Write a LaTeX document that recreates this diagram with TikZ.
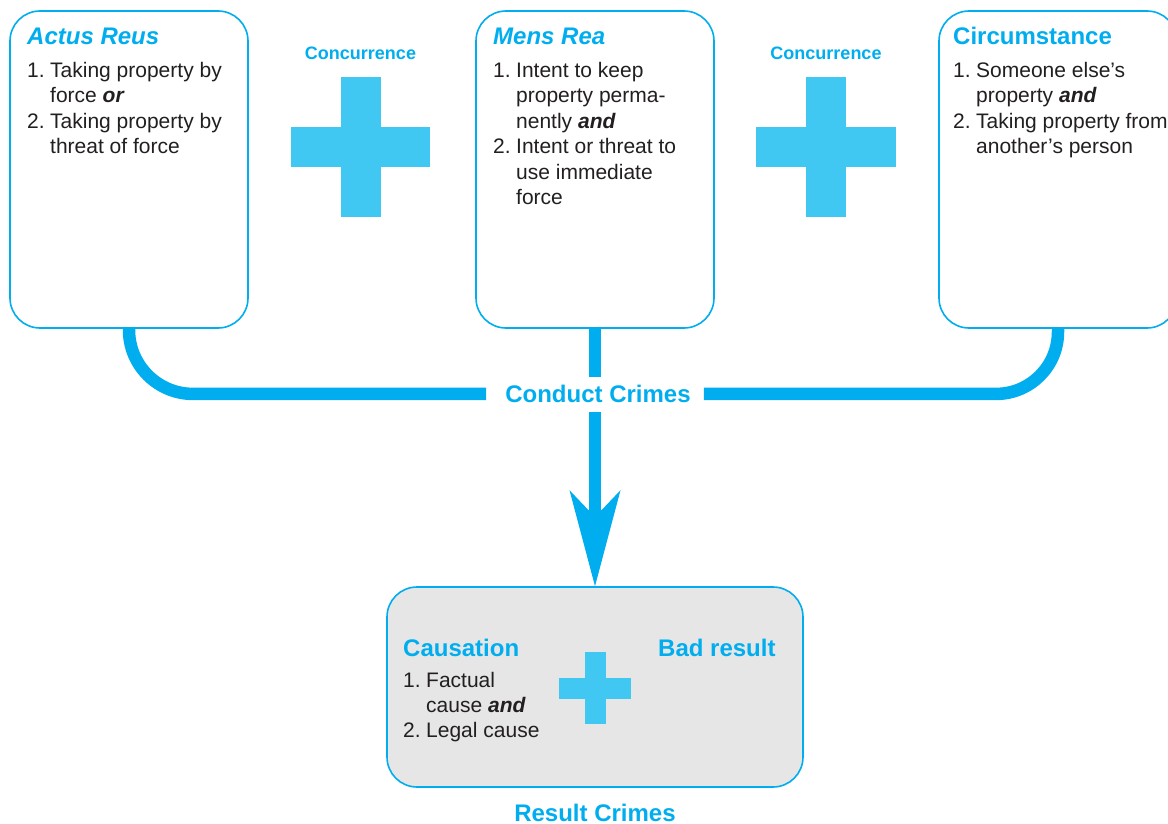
\documentclass[tikz,border=0pt]{standalone}
\usepackage{fontspec}
\setmainfont{Liberation Sans}
\usetikzlibrary{calc}

\definecolor{brandcyan}{RGB}{0,174,239}
\definecolor{pluscyan}{RGB}{64,200,242}
\definecolor{bodyink}{RGB}{35,31,32}
\definecolor{panelgray}{RGB}{230,230,230}

% hanging number of a list item
\newcommand{\itemno}[1]{\makebox[23pt][l]{#1}}
\newcommand{\joiner}[1]{\textbf{\textit{#1}}}

\begin{document}
\begin{tikzpicture}[x=1pt,y=-1pt,
  box/.style={draw=brandcyan, line width=1.6pt, rounded corners=30pt, fill=white, inner sep=0pt},
  conn/.style={draw=brandcyan, line width=12.5pt},
  head/.style={font=\fontsize{24}{28}\selectfont\bfseries, text=brandcyan, inner sep=0pt, anchor=base west},
  headit/.style={head, font=\fontsize{24}{28}\selectfont\bfseries\itshape},
  label/.style={font=\fontsize{24}{28}\selectfont\bfseries, text=brandcyan, inner sep=0pt, anchor=base},
  smalllabel/.style={font=\fontsize{18}{22}\selectfont\bfseries, text=brandcyan, inner sep=0pt, anchor=base},
  items/.style={font=\fontsize{21}{25.4}\selectfont, text=bodyink, inner sep=0pt, anchor=base west},
  pics/plusmark/.style n args={2}{code={
    \fill[pluscyan] (-#1,-#2) rectangle (#1,#2);
    \fill[pluscyan] (-#2,-#1) rectangle (#2,#1);
  }}]
  \useasboundingbox (0,0) rectangle (1168,824);
  \clip (0,0) rectangle (1168,824);
  \fill[white] (0,0) rectangle (1168,824);

  % the three element boxes
  \node[box, minimum width=238pt, minimum height=317pt] (b1) at (129,169.5) {};
  \node[box, minimum width=238pt, minimum height=317pt] (b2) at (595,169.5) {};
  \node[box, minimum width=238pt, minimum height=317pt] (b3) at (1058,169.5) {};

  % result box
  \node[box, fill=panelgray, minimum width=416pt, minimum height=200pt] (res) at (595,687) {};

  % box contents
  \node[headit] (t1) at (27,44.5) {Actus Reus};
  \node[items] (l1) at (27,77.5) {\begin{tabular}[t]{@{}l@{}l@{}}
    \itemno{1.}&Taking property by\\
    &force \joiner{or}\\
    \itemno{2.}&Taking property by\\
    &threat of force
  \end{tabular}};

  \node[headit] (t2) at (493,44.5) {Mens Rea};
  \node[items] (l2) at (493,77.5) {\begin{tabular}[t]{@{}l@{}l@{}}
    \itemno{1.}&Intent to keep\\
    &property perma-\\
    &nently \joiner{and}\\
    \itemno{2.}&Intent or threat to\\
    &use immediate\\
    &force
  \end{tabular}};

  \node[head] (t3) at (953,44.5) {Circumstance};
  \node[items] (l3) at (953,77.5) {\begin{tabular}[t]{@{}l@{}l@{}}
    \itemno{1.}&Someone else’s\\
    &property \joiner{and}\\
    \itemno{2.}&Taking property from\\
    &another’s person
  \end{tabular}};

  % concurrence signs
  \node[smalllabel] (c1) at (360.5,60) {Concurrence};
  \pic at (360.5,147) {plusmark={69.75}{20}};
  \node[smalllabel] (c2) at (826,60) {Concurrence};
  \pic at (826,147) {plusmark={69.75}{20}};

  % connectors
  \node[label] (cc) at (598,402.5) {Conduct Crimes};
  \draw[conn, rounded corners=64pt, shorten >=19pt] (b1.south) |- (cc.west);
  \draw[conn, rounded corners=62pt, shorten >=13pt] (b3.south) |- (cc.east);
  \draw[conn, shorten >=7.5pt] (b2.south) -- (b2.south |- cc.north);
  \draw[conn, shorten <=9.5pt] (res.north |- cc.south) -- ($(res.north)+(0,-74)$);
  \fill[brandcyan] (res.north) -- ($(res.north)+(25.5,-96)$) -- ($(res.north)+(6.5,-76)$)
    -- ($(res.north)+(-6.5,-76)$) -- ($(res.north)+(-25.5,-96)$) -- cycle;

  % result crimes contents
  \node[head] (t4) at (403,656) {Causation};
  \node[items] (l4) at (403,687) {\begin{tabular}[t]{@{}l@{}l@{}}
    \itemno{1.}&Factual\\
    &cause \joiner{and}\\
    \itemno{2.}&Legal cause
  \end{tabular}};
  \pic at (595,688) {plusmark={36}{10.5}};
  \node[head] (t5) at (658,656) {Bad result};
  \node[label] (rc) at (595,821) {Result Crimes};
\end{tikzpicture}
\end{document}
